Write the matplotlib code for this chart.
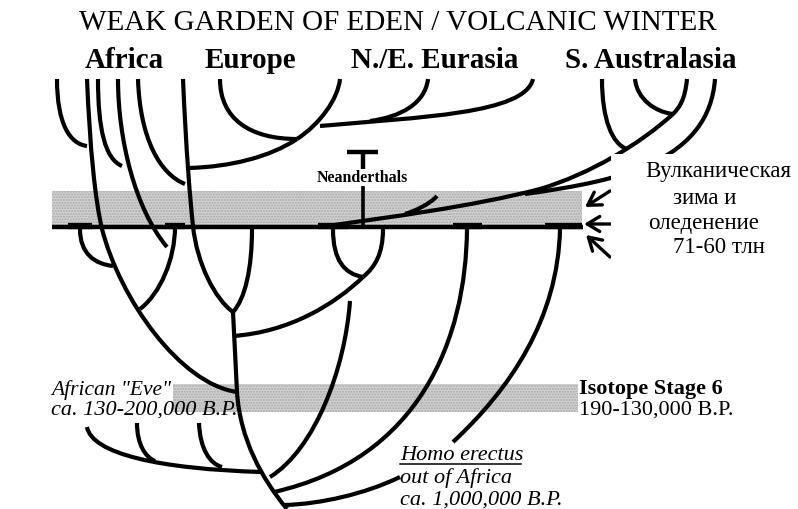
import matplotlib

matplotlib.use("Agg")
import matplotlib.pyplot as plt
from matplotlib.path import Path
from matplotlib.patches import PathPatch, Rectangle

# branches as chains of cubic bezier control points (image pixels, y down)
top_branches = [
    [(57, 80), (57, 125), (70, 145), (87, 147)],
    [(87, 80), (90, 150), (95, 200), (102, 230), (120, 300), (180, 385), (237, 393)],
    [(98, 80), (98, 130), (105, 160), (122, 167)],
    [(118, 80), (118, 140), (135, 210), (167, 248)],
    [(138, 80), (140, 140), (160, 175), (185, 185)],
    [(183, 80), (186, 150), (190, 200), (193, 227), (197, 265), (215, 300), (233, 313)],
    [(188, 169), (230, 168), (270, 158), (297, 140)],
    [(220, 80), (220, 120), (250, 140), (297, 140)],
    [(297, 140), (320, 125), (338, 100), (340, 80)],
    [(533, 80), (525, 115), (420, 118), (320, 127)],
    [(428, 80), (425, 105), (400, 118), (370, 122)],
    [(602, 80), (602, 120), (612, 145), (627, 150)],
    [(635, 80), (637, 100), (655, 113), (673, 115)],
    [(687, 80), (685, 100), (680, 108), (673, 115), (640, 145), (590, 175), (540, 190),
     (470, 208), (390, 218), (320, 228)],
    [(715, 80), (712, 120), (690, 145), (655, 163), (620, 180), (575, 188), (525, 195)],
    [(437, 197), (430, 205), (415, 212), (405, 215)],
]
low_branches = [
    [(80, 230), (80, 255), (95, 265), (113, 267)],
    [(175, 228), (175, 260), (160, 295), (140, 310)],
    [(252, 230), (252, 270), (245, 300), (233, 313)],
    [(233, 313), (235, 350), (236, 375), (237, 393), (240, 440), (262, 480), (287, 510)],
    [(233, 337), (290, 333), (335, 305), (363, 278)],
    [(333, 230), (333, 262), (345, 275), (363, 278)],
    [(383, 230), (383, 255), (375, 268), (363, 278)],
    [(350, 302), (345, 370), (315, 450), (270, 478)],
    [(467, 230), (466, 340), (420, 460), (274, 493)],
    [(560, 230), (558, 320), (510, 390), (453, 443)],
    [(285, 506), (320, 505), (365, 495), (400, 478)],
    [(87, 428), (92, 455), (160, 470), (262, 473)],
    [(137, 424), (137, 445), (145, 458), (155, 462)],
    [(199, 424), (200, 450), (210, 465), (222, 468)],
]

region_names = ["Africa", "Europe", "N./E. Eurasia", "S. Australasia"]
region_x = [124, 250, 435, 651]
band_spans = [(52, 582, 192, 226), (173, 578, 385, 413)]
marks_on_line = [(68, 92), (165, 185), (318, 348), (453, 482), (545, 582)]
winter_lines = ["Вулканическая", "зима и", "оледенение", "71-60 тлн"]
winter_pos = [(645, 172), (673, 199), (648, 224), (673, 248)]
arrow_tails = [(610, 192), (610, 225), (610, 258)]
arrow_heads = [(585, 208), (584, 225), (586, 236)]

SERIF = ["Liberation Serif", "DejaVu Serif"]

fig = plt.figure(figsize=(7.98, 5.10), dpi=100)
ax = fig.add_axes([0, 0, 1, 1])
ax.set_xlim(0, 798)
ax.set_ylim(510, 0)
ax.axis("off")


def bezier_chain(pts, lw=3.0):
    codes = [Path.MOVETO] + [Path.CURVE4] * (len(pts) - 1)
    ax.add_patch(PathPatch(Path(pts, codes), fill=False, lw=lw, color="black",
                           capstyle="butt", zorder=3))


for x0, x1, y0, y1 in band_spans:
    ax.add_patch(Rectangle((x0, y0), x1 - x0, y1 - y0, facecolor="#d2d2d2",
                           edgecolor="#a8a8a8", hatch="......", lw=0, zorder=1))

ax.plot([52, 583], [228, 228], color="black", lw=3.2, solid_capstyle="butt", zorder=4)
for a, b in marks_on_line:
    ax.plot([a, b], [226.5, 226.5], color="black", lw=4.5, solid_capstyle="butt", zorder=4)

for br in top_branches + low_branches:
    bezier_chain(br)

# Neanderthals marker
ax.plot([347, 378], [153, 153], color="black", lw=3.2, solid_capstyle="butt", zorder=4)
ax.plot([362.5, 362.5], [153, 170], color="black", lw=3.2, solid_capstyle="butt", zorder=4)
ax.plot([362.5, 362.5], [187, 226], color="black", lw=2.6, solid_capstyle="butt", zorder=4)
ax.text(362, 178, "Neanderthals", family=SERIF, weight="bold", fontsize=11.5,
        ha="center", va="center", zorder=5)

for (tx, ty), (hx, hy) in zip(arrow_tails, arrow_heads):
    ax.annotate("", xy=(hx, hy), xytext=(tx, ty),
                arrowprops=dict(arrowstyle="->,head_length=0.5,head_width=0.3",
                                color="black", lw=2.4, mutation_scale=18,
                                shrinkA=0, shrinkB=0), zorder=5)

# white box behind russian note hides branch ends
ax.add_patch(Rectangle((611, 155), 200, 113, facecolor="white", edgecolor="none", zorder=6))
for txt, (x, y) in zip(winter_lines, winter_pos):
    ax.text(x, y, txt, family=SERIF, fontsize=16.5, ha="left", va="center", zorder=7)

ax.text(398, 23, "WEAK GARDEN OF EDEN / VOLCANIC WINTER", family=SERIF, fontsize=21,
        ha="center", va="center")
for name, x in zip(region_names, region_x):
    ax.text(x, 60, name, family=SERIF, weight="bold", fontsize=21, ha="center", va="center")

ax.text(51, 390, 'African "Eve"', family=SERIF, style="italic", fontsize=15.5,
        ha="left", va="center")
ax.text(51, 410, "ca. 130-200,000 B.P.", family=SERIF, style="italic", fontsize=16,
        ha="left", va="center")
ax.text(579, 389, "Isotope Stage 6", family=SERIF, weight="bold", fontsize=16,
        ha="left", va="center")
ax.text(579, 410, "190-130,000 B.P.", family=SERIF, fontsize=16, ha="left", va="center")
ax.text(400, 456, "Homo erectus", family=SERIF, style="italic", fontsize=16,
        ha="left", va="center")
ax.plot([400, 521], [465, 465], color="black", lw=1.1)
ax.text(400, 478, "out of Africa", family=SERIF, style="italic", fontsize=16,
        ha="left", va="center")
ax.text(400, 500, "ca. 1,000,000 B.P.", family=SERIF, style="italic", fontsize=16,
        ha="left", va="center")

fig.savefig("out.png", dpi=100, facecolor="white")
